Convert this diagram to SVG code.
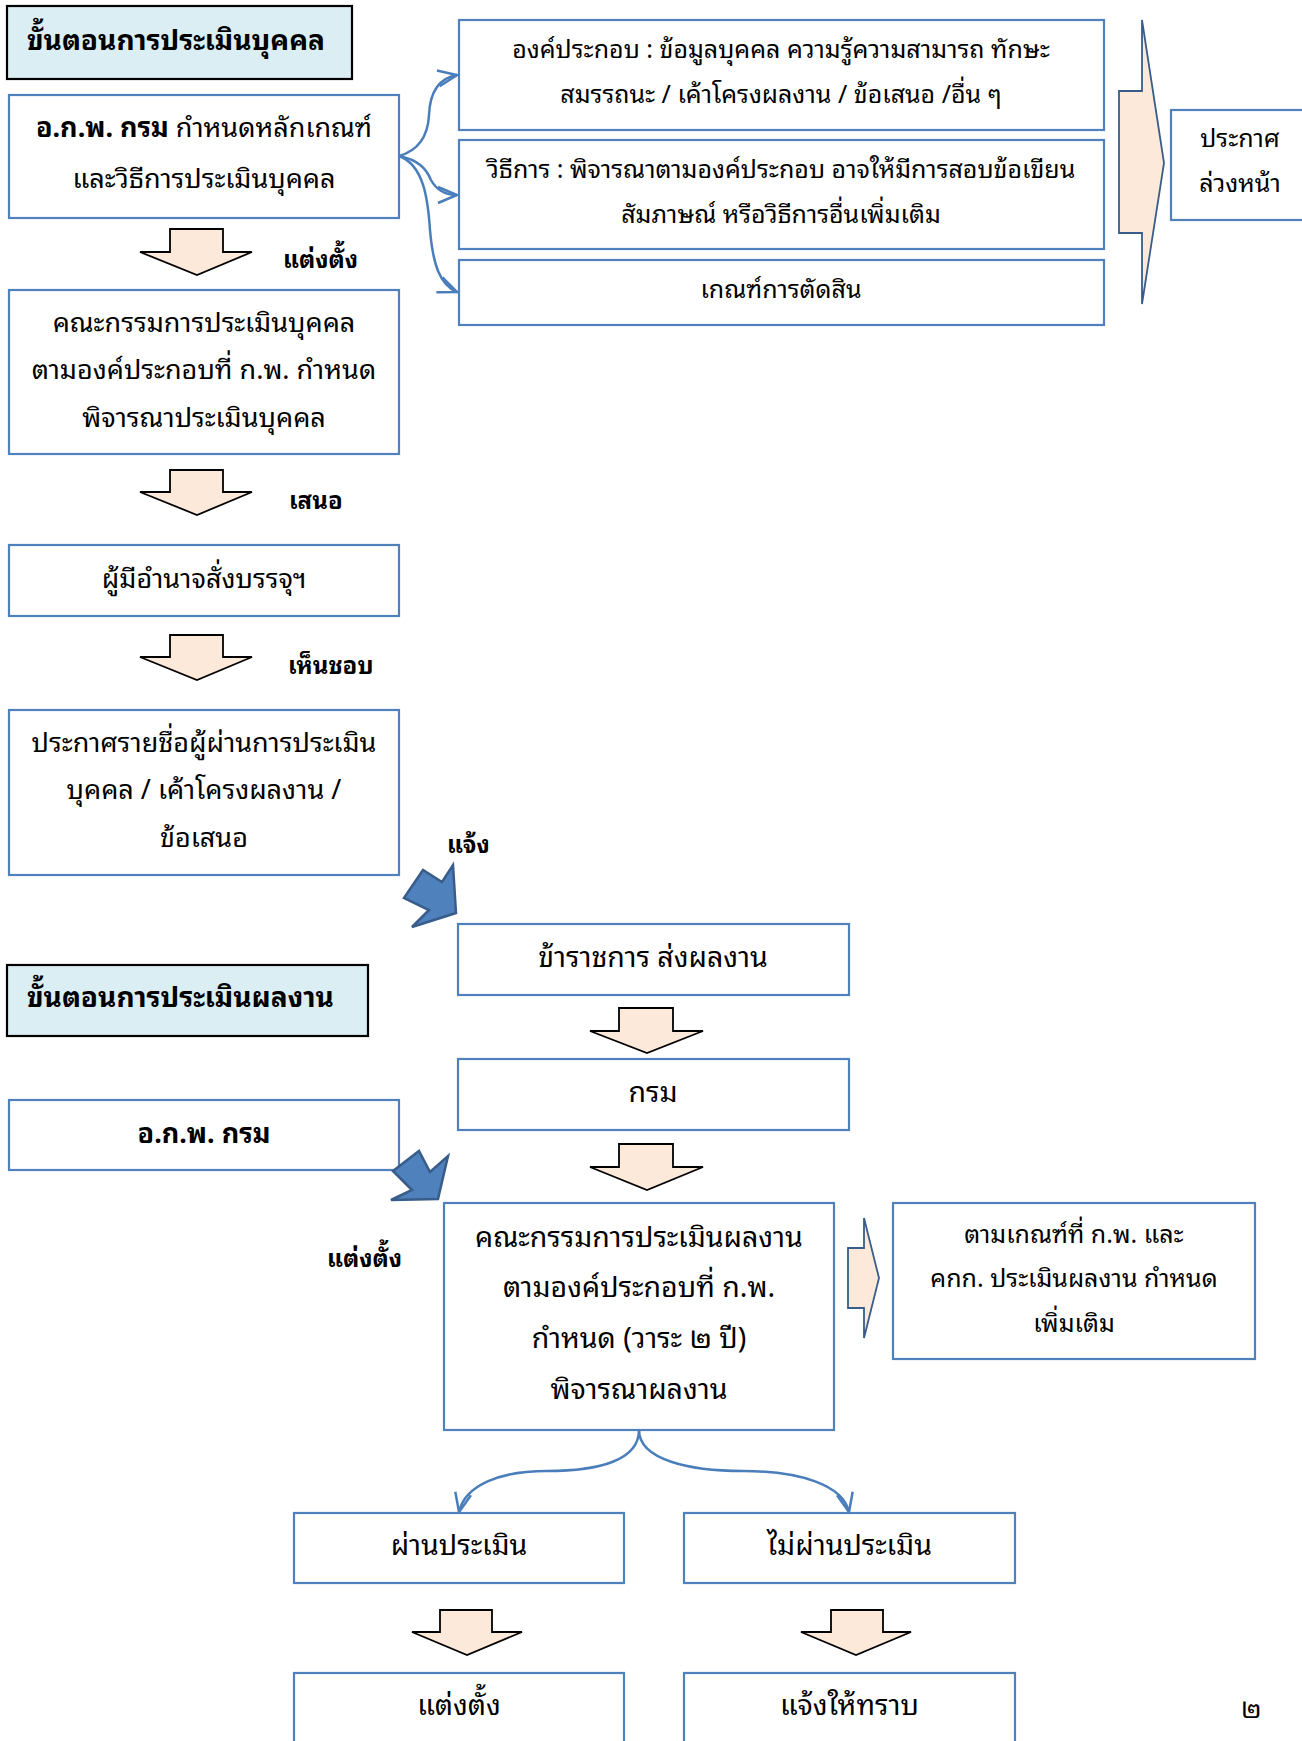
<svg xmlns="http://www.w3.org/2000/svg" width="1302" height="1741" viewBox="0 0 1302 1741">
<style>
text{font-family:'Noto Sans Thai Looped','Noto Serif Thai','Noto Sans Thai','Noto Sans',sans-serif;fill:#000;}
.box{fill:#fff;stroke:#4f81bd;stroke-width:2.2;}
.title{fill:#daeef3;stroke:#000;stroke-width:2.2;}
.tt{font-size:28px;font-weight:bold;}
.t1{font-size:27px;text-anchor:middle;}
.t3{font-size:28.5px;text-anchor:middle;}
.t2{font-size:25px;text-anchor:middle;}
.lb{font-size:24px;font-weight:bold;}
.barrow{fill:#fde9d9;stroke:#000;stroke-width:1.8;stroke-linejoin:miter;}
.bigarrow{fill:#fde9d9;stroke:#385d8a;stroke-width:1.8;}
.blue{fill:#4f81bd;stroke:#385d8a;stroke-width:2.5;stroke-linejoin:miter;}
.conn{fill:none;stroke:#4a7ebb;stroke-width:2.5;}
</style>
<defs>
<marker id="open" markerUnits="userSpaceOnUse" viewBox="-22 -11 24 22" markerWidth="24" markerHeight="22" refX="0" refY="0" orient="auto">
<path d="M-19,-8 L0,0 L-19,8" fill="none" stroke="#4a7ebb" stroke-width="2.5"/>
</marker>
</defs>

<g id="title1">
<rect class="title" x="7" y="6" width="345" height="73"/>
<text class="tt" x="27" y="50">ขั้นตอนการประเมินบุคคล</text>
</g>

<g id="n1">
<rect class="box" x="9" y="95" width="390" height="123"/>
<text class="t1" x="204" y="137"><tspan font-weight="bold">อ.ก.พ. กรม</tspan> กำหนดหลักเกณฑ์</text>
<text class="t1" x="204" y="188">และวิธีการประเมินบุคคล</text>
</g>

<g id="a1">
<polygon class="barrow" points="170,229 223,229 223,252 252,252 197,275 140,252 170,252"/>
<text class="lb" x="283" y="268">แต่งตั้ง</text>
</g>

<g id="n2">
<rect class="box" x="9" y="290" width="390" height="164"/>
<text class="t1" x="204" y="332">คณะกรรมการประเมินบุคคล</text>
<text class="t1" x="204" y="379">ตามองค์ประกอบที่ ก.พ. กำหนด</text>
<text class="t1" x="204" y="427">พิจารณาประเมินบุคคล</text>
</g>

<g id="a2">
<polygon class="barrow" points="170,470 223,470 223,492 252,492 197,515 140,492 170,492"/>
<text class="lb" x="289" y="509">เสนอ</text>
</g>

<g id="n3">
<rect class="box" x="9" y="545" width="390" height="71"/>
<text class="t1" x="204" y="588">ผู้มีอำนาจสั่งบรรจุฯ</text>
</g>

<g id="a3">
<polygon class="barrow" points="170,635 223,635 223,657 252,657 197,680 140,657 170,657"/>
<text class="lb" x="288" y="674">เห็นชอบ</text>
</g>

<g id="n4">
<rect class="box" x="9" y="710" width="390" height="165"/>
<text class="t1" x="204" y="752">ประกาศรายชื่อผู้ผ่านการประเมิน</text>
<text class="t1" x="204" y="799">บุคคล / เค้าโครงผลงาน /</text>
<text class="t1" x="204" y="847">ข้อเสนอ</text>
</g>

<g id="nA">
<rect class="box" x="459" y="20" width="645" height="110"/>
<text class="t2" x="781" y="58">องค์ประกอบ : ข้อมูลบุคคล ความรู้ความสามารถ ทักษะ</text>
<text class="t2" x="781" y="103">สมรรถนะ / เค้าโครงผลงาน / ข้อเสนอ /อื่น ๆ</text>
</g>

<g id="nB">
<rect class="box" x="459" y="140" width="645" height="109"/>
<text class="t2" x="781" y="178">วิธีการ : พิจารณาตามองค์ประกอบ อาจให้มีการสอบข้อเขียน</text>
<text class="t2" x="781" y="223">สัมภาษณ์ หรือวิธีการอื่นเพิ่มเติม</text>
</g>

<g id="nC">
<rect class="box" x="459" y="260" width="645" height="65"/>
<text class="t2" x="781" y="298">เกณฑ์การตัดสิน</text>
</g>

<g id="bigarrow1">
<polygon class="bigarrow" points="1119,91 1142,91 1142,20 1164,163 1142,304 1142,233 1119,233"/>
</g>

<g id="nD">
<rect class="box" x="1171" y="110" width="140" height="110"/>
<text class="t2" x="1240" y="147">ประกาศ</text>
<text class="t2" x="1240" y="192">ล่วงหน้า</text>
</g>

<g id="blue1">
<polygon class="blue" points="404,898 423,870 442,882 453,865 456,913 412,927 429,910"/>
<text class="lb" x="447" y="853">แจ้ง</text>
</g>

<g id="title2">
<rect class="title" x="7" y="965" width="361" height="71"/>
<text class="tt" x="27" y="1007">ขั้นตอนการประเมินผลงาน</text>
</g>

<g id="n5">
<rect class="box" x="9" y="1100" width="390" height="70"/>
<text class="t1" x="204" y="1143" font-weight="bold">อ.ก.พ. กรม</text>
</g>

<g id="blue2">
<polygon class="blue" points="393,1171 419,1151 430,1172 448,1156 438,1199 391,1200 412,1190"/>
<text class="lb" x="327" y="1267">แต่งตั้ง</text>
</g>

<g id="n6">
<rect class="box" x="458" y="924" width="391" height="71"/>
<text class="t3" x="653" y="967">ข้าราชการ ส่งผลงาน</text>
</g>

<g id="a4">
<polygon class="barrow" points="619,1008 673,1008 673,1031 703,1031 647,1053 590,1031 619,1031"/>
</g>

<g id="n7">
<rect class="box" x="458" y="1059" width="391" height="71"/>
<text class="t3" x="653" y="1102">กรม</text>
</g>

<g id="a5">
<polygon class="barrow" points="619,1144 673,1144 673,1167 703,1167 647,1190 590,1167 619,1167"/>
</g>

<g id="n8">
<rect class="box" x="444" y="1203" width="390" height="227"/>
<text class="t3" x="639" y="1247">คณะกรรมการประเมินผลงาน</text>
<text class="t3" x="639" y="1297">ตามองค์ประกอบที่ ก.พ.</text>
<text class="t3" x="639" y="1348">กำหนด (วาระ ๒ ปี)</text>
<text class="t3" x="639" y="1399">พิจารณาผลงาน</text>
</g>

<g id="bigarrow2">
<polygon class="bigarrow" points="848,1248 864,1248 864,1218 879,1278 864,1338 864,1308 848,1308"/>
</g>

<g id="n9">
<rect class="box" x="893" y="1203" width="362" height="156"/>
<text class="t2" x="1074" y="1243">ตามเกณฑ์ที่ ก.พ. และ</text>
<text class="t2" x="1074" y="1287">คกก. ประเมินผลงาน กำหนด</text>
<text class="t2" x="1074" y="1332">เพิ่มเติม</text>
</g>

<g id="n10">
<rect class="box" x="294" y="1513" width="330" height="70"/>
<text class="t3" x="459" y="1555">ผ่านประเมิน</text>
</g>

<g id="n11">
<rect class="box" x="684" y="1513" width="331" height="70"/>
<text class="t3" x="849.5" y="1555">ไม่ผ่านประเมิน</text>
</g>

<g id="a6">
<polygon class="barrow" points="440,1610 492,1610 492,1632 522,1632 467,1655 412,1632 440,1632"/>
</g>

<g id="a7">
<polygon class="barrow" points="831,1610 883,1610 883,1632 911,1632 856,1655 801,1632 831,1632"/>
</g>

<g id="n12">
<rect class="box" x="294" y="1673" width="330" height="80"/>
<text class="t3" x="459" y="1715">แต่งตั้ง</text>
</g>

<g id="n13">
<rect class="box" x="684" y="1673" width="331" height="80"/>
<text class="t3" x="849.5" y="1715">แจ้งให้ทราบ</text>
</g>

<text x="1241" y="1718" font-size="26">๒</text>

<g id="connectors">
<path class="conn" marker-end="url(#open)" d="M399,156 C420,150 428,135 429,115 C430,90 440,78 457,75"/>
<path class="conn" marker-end="url(#open)" d="M399,156 C418,160 426,168 431,180 C437,191 446,195 457,195"/>
<path class="conn" marker-end="url(#open)" d="M399,156 C424,165 428,200 430,230 C433,265 440,285 457,292"/>
<path class="conn" marker-end="url(#open)" d="M639,1430 C639,1460 600,1471 547,1471 C500,1471 465,1485 459,1512"/>
<path class="conn" marker-end="url(#open)" d="M639,1430 C639,1460 690,1471 743,1471 C800,1471 843,1485 849,1512"/>
</g>
</svg>
